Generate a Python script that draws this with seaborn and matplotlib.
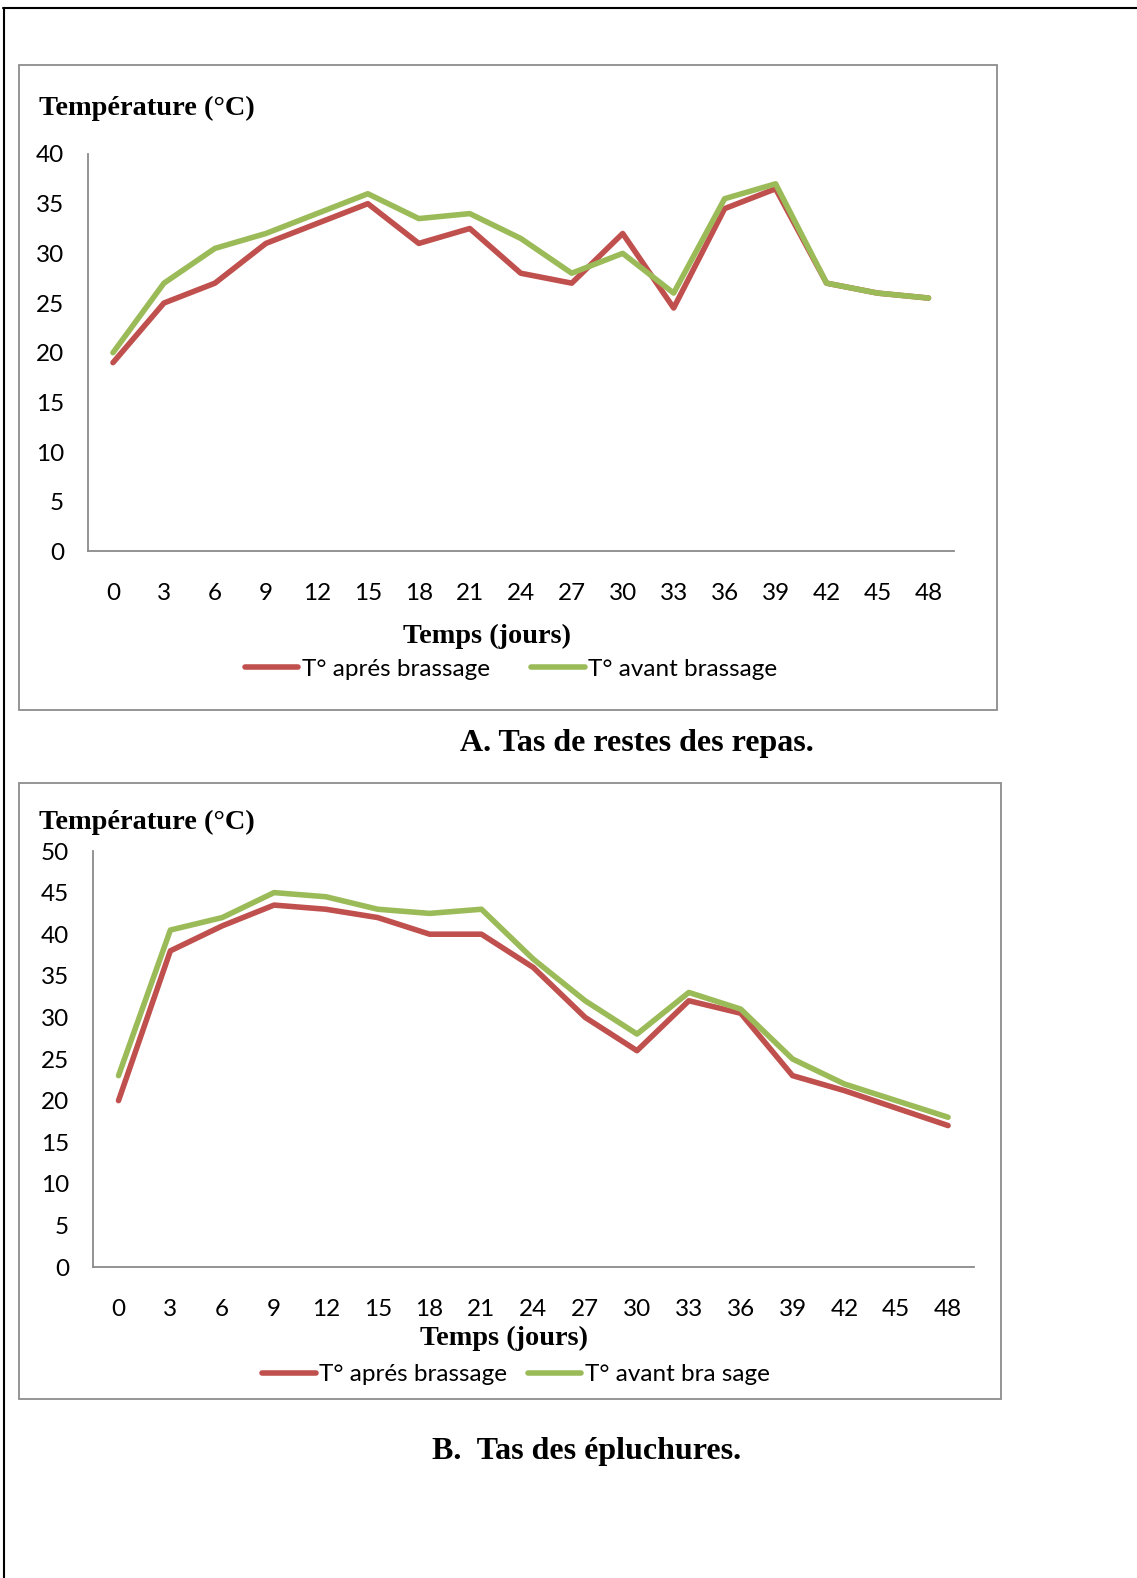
import pandas as pd
import matplotlib.pyplot as plt
import seaborn as sns
from matplotlib.patches import Rectangle
from matplotlib.lines import Line2D

# data
jours = [0, 3, 6, 9, 12, 15, 18, 21, 24, 27, 30, 33, 36, 39, 42, 45, 48]

repas_apres = [19, 25, 27, 31, 33, 35, 31, 32.5, 28, 27, 32, 24.5, 34.5, 36.5, 27, 26, 25.5]
repas_avant = [20, 27, 30.5, 32, 34, 36, 33.5, 34, 31.5, 28, 30, 26, 35.5, 37, 27, 26, 25.5]

epl_apres = [20, 38, 41, 43.5, 43, 42, 40, 40, 36, 30, 26, 32, 30.5, 23, 21.2, 19.1, 17]
epl_avant = [23, 40.5, 42, 45, 44.5, 43, 42.5, 43, 37, 32, 28, 33, 31, 25, 22, 20, 18]

lab_apres = "T° aprés brassage"
lab_avant_a = "T° avant brassage"
lab_avant_b = "T° avant bra sage"

ROUGE = "#C0504D"
VERT = "#9BBB59"

sns.set_theme(style="white")
plt.rcParams['font.family'] = ['Lato', 'DejaVu Sans']
plt.rcParams['text.color'] = 'black'

W, H = 1137, 1578
fig = plt.figure(figsize=(W / 100, H / 100), dpi=100)


def fx(px):
    return px / W


def fy(py):
    return 1 - py / H


def make_df(apres, avant, lab_avant):
    a = pd.DataFrame({"Jours": jours, "Temp": apres, "Serie": lab_apres})
    b = pd.DataFrame({"Jours": jours, "Temp": avant, "Serie": lab_avant})
    return pd.concat([a, b], ignore_index=True)


def panel(box, frame, apres, avant, lab_avant, ymax, ylab_y, xlab, leg, colsp,
          caption, caption_txt):
    l, r, t, b = box
    ax = fig.add_axes([fx(l), fy(b), fx(r - l), (b - t) / H])
    df = make_df(apres, avant, lab_avant)
    sns.lineplot(ax=ax, data=df, x="Jours", y="Temp", hue="Serie",
                 palette=[ROUGE, VERT], linewidth=4,
                 solid_joinstyle="round", solid_capstyle="round")
    ax.set_xlim(-1.5, 49.5)
    ax.set_ylim(0, ymax)
    ax.set_xticks(jours)
    ax.set_yticks(range(0, ymax + 1, 5))
    ax.set_xlabel("")
    ax.set_ylabel("")
    ax.tick_params(axis="both", length=0, labelsize=17.5, colors="black")
    ax.tick_params(axis="y", pad=17)
    ax.tick_params(axis="x", pad=23)
    for s in ["top", "right"]:
        ax.spines[s].set_visible(False)
    for s in ["left", "bottom"]:
        ax.spines[s].set_color("#8a8a8a")
        ax.spines[s].set_linewidth(1.3)
    ax.set_facecolor("none")

    handles, labels = ax.get_legend_handles_labels()
    ax.legend(handles, labels, loc="center", bbox_to_anchor=(fx(leg[0]), fy(leg[1])),
              bbox_transform=fig.transFigure, ncol=2, frameon=False, fontsize=17.5,
              handlelength=2.2, handletextpad=0.15, columnspacing=colsp, borderpad=0)

    fl, fr, ft, fb = frame
    fig.patches.append(Rectangle((fx(fl), fy(fb)), fx(fr - fl), (fb - ft) / H,
                                 transform=fig.transFigure, fill=False,
                                 edgecolor="#8c8c8c", linewidth=1.3, zorder=0))

    fig.text(fx(39), fy(ylab_y), "Température (°C)", ha="left", va="center",
             fontsize=20.4, fontweight="bold", family="Liberation Serif", color="black")
    fig.text(fx(xlab[0]), fy(xlab[1]), "Temps (jours)", ha="center", va="center",
             fontsize=20.3, fontweight="bold", family="Liberation Serif", color="black")
    fig.text(fx(caption[0]), fy(caption[1]), caption_txt, ha="center", va="center",
             fontsize=23, fontweight="bold", family="Liberation Serif", color="black")
    return ax


panel((87.5, 954, 154, 551.4), (19, 997, 64.5, 709.5), repas_apres, repas_avant,
      lab_avant_a, 40, 108.7, (487, 636), (511, 669), 1.7, (636.5, 743.5),
      "A. Tas de restes des repas.")
panel((92.6, 974, 851, 1267), (19, 1001, 783, 1399), epl_apres, epl_avant,
      lab_avant_b, 50, 822, (504, 1338), (516, 1374.5), 0.85, (587, 1451),
      "B.  Tas des épluchures.")

# page border (top and left only)
fig.lines.append(Line2D([fx(3), 1], [fy(7.5), fy(7.5)], transform=fig.transFigure,
                        color="black", linewidth=1.5))
fig.lines.append(Line2D([fx(3.5), fx(3.5)], [fy(7.5), 0], transform=fig.transFigure,
                        color="black", linewidth=1.5))

plt.savefig("out.png", dpi=100)
